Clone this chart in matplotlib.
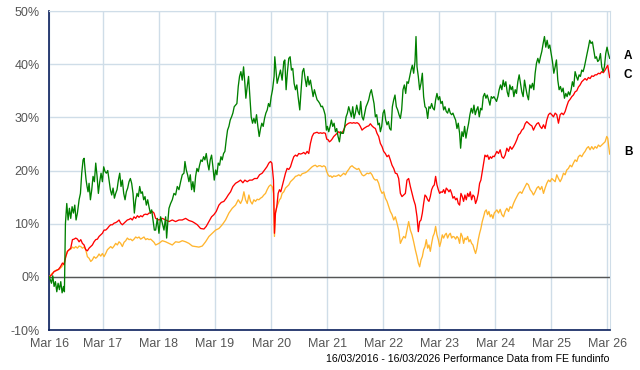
import numpy as np
import pandas as pd
import matplotlib
matplotlib.use("Agg")
import matplotlib.pyplot as plt
import matplotlib.transforms as mtransforms

plt.rcParams["font.family"] = ["Liberation Sans", "DejaVu Sans"]

# Cumulative performance (%) against years since 16/03/2016
a_years = [0.0, 0.039, 0.062, 0.086, 0.110, 0.134, 0.157, 0.181, 0.205, 0.229, 0.253, 0.270,
           0.288, 0.312, 0.336, 0.359, 0.383, 0.407, 0.431, 0.455, 0.478, 0.502,
           0.532, 0.556, 0.579, 0.603, 0.621, 0.639, 0.657, 0.674, 0.692, 0.710,
           0.734, 0.758, 0.781, 0.805, 0.829, 0.853, 0.876, 0.900, 0.924, 0.948, 0.971, 0.995,
           1.019, 1.043, 1.066, 1.090, 1.114, 1.138, 1.162, 1.185, 1.209, 1.233, 1.257, 1.280,
           1.304, 1.328, 1.352, 1.375, 1.399, 1.423, 1.447, 1.470, 1.494, 1.518, 1.542, 1.566,
           1.589, 1.613, 1.637, 1.661, 1.684, 1.708, 1.732, 1.756, 1.779, 1.803, 1.827, 1.851, 1.875,
           1.898, 1.928, 1.957, 1.987, 2.017, 2.047, 2.076, 2.094, 2.118, 2.136, 2.165, 2.195,
           2.225, 2.254, 2.284, 2.314, 2.344, 2.373, 2.403, 2.421, 2.445, 2.468, 2.492, 2.516,
           2.540, 2.563, 2.587, 2.611, 2.635, 2.659, 2.682, 2.706, 2.730, 2.754, 2.777, 2.801,
           2.825, 2.849, 2.872, 2.896, 2.920, 2.944, 2.968, 2.991, 3.015, 3.039, 3.063, 3.086,
           3.110, 3.134, 3.158, 3.181, 3.205, 3.229, 3.253, 3.276, 3.300, 3.324, 3.348, 3.372,
           3.395, 3.419, 3.443, 3.467, 3.490, 3.508, 3.532, 3.556, 3.580, 3.603, 3.627, 3.651,
           3.675, 3.698, 3.722, 3.746, 3.770, 3.793, 3.817, 3.841, 3.865, 3.889, 3.912, 3.936,
           3.960, 3.984,
           4.012, 4.024, 4.066, 4.096, 4.125, 4.155, 4.185, 4.203, 4.226, 4.250, 4.274, 4.298,
           4.321, 4.345, 4.369, 4.393, 4.417, 4.440, 4.470, 4.494, 4.518, 4.541, 4.565, 4.589,
           4.613, 4.636, 4.660, 4.684, 4.708, 4.731, 4.755, 4.779, 4.803, 4.827, 4.850, 4.874,
           4.898, 4.922, 4.945, 4.963, 4.987, 5.011, 5.034, 5.058, 5.082, 5.106, 5.129, 5.153,
           5.177, 5.201, 5.224, 5.248, 5.272, 5.296, 5.320, 5.343, 5.367, 5.391, 5.415, 5.438,
           5.462, 5.486, 5.510, 5.534, 5.557, 5.581, 5.605, 5.629, 5.652, 5.676, 5.700, 5.724,
           5.747, 5.771, 5.795, 5.819, 5.843, 5.866, 5.890,
           5.908, 5.932, 5.956, 5.979, 6.003, 6.027, 6.051, 6.074, 6.098, 6.122, 6.146, 6.169,
           6.193, 6.217, 6.241, 6.265, 6.288, 6.312, 6.336, 6.360, 6.383, 6.407, 6.431, 6.455,
           6.478, 6.502, 6.526, 6.544, 6.562, 6.585, 6.609, 6.633, 6.657, 6.680, 6.704, 6.728,
           6.752, 6.775, 6.799, 6.823, 6.847, 6.871, 6.894, 6.918, 6.942, 6.966, 6.989, 7.013,
           7.037, 7.061, 7.084, 7.108, 7.132, 7.156, 7.180, 7.203, 7.227, 7.251, 7.275, 7.298,
           7.322, 7.340, 7.364, 7.388, 7.411, 7.435, 7.459, 7.483, 7.506, 7.530, 7.554, 7.578,
           7.601, 7.625, 7.649, 7.673, 7.697, 7.720, 7.744, 7.768, 7.792, 7.815, 7.839, 7.863,
           7.887, 7.910, 7.934,
           7.981, 8.005, 8.028, 8.052, 8.076, 8.100, 8.123, 8.147, 8.171, 8.195, 8.218, 8.242,
           8.266, 8.290, 8.314, 8.337, 8.361, 8.385, 8.409, 8.432, 8.456, 8.480, 8.504, 8.527,
           8.551, 8.575, 8.599, 8.622, 8.646, 8.670, 8.694, 8.718, 8.741, 8.765, 8.789, 8.813,
           8.836, 8.860, 8.884, 8.908, 8.931, 8.955, 8.979, 9.003, 9.027, 9.050, 9.074, 9.098,
           9.122, 9.145, 9.169, 9.193, 9.217, 9.240, 9.264, 9.288, 9.312, 9.335, 9.359, 9.383,
           9.407, 9.431, 9.454, 9.478, 9.502, 9.526, 9.549, 9.573, 9.597, 9.621, 9.644, 9.668,
           9.692, 9.716, 9.740, 9.763, 9.787, 9.811, 9.835, 9.858, 9.882, 9.906, 9.930, 9.953,
           9.977, 10.0]
a_pct = [0, -1.2, 0.2, -1.8, -0.9, -2.8, -1.2, -2.4, -0.9, -3.0, -1.8, -2.8,
         10.0, 13.8, 10.7, 12.9, 11.0, 13.2, 12.0, 13.5, 10.7, 12.0,
         14.5, 15.7, 19.5, 22.0, 22.3, 20.1, 18.2, 17.0, 16.0, 17.6,
         14.5, 16.4, 18.9, 17.9, 21.4, 18.9, 15.7, 17.9, 19.5, 17.9, 20.7, 19.8,
         19.5, 20.0, 18.2, 16.4, 15.4, 16.7, 14.8, 15.7, 16.4, 18.2, 19.5, 17.0,
         18.2, 15.7, 14.5, 16.0, 16.7, 17.9, 18.5, 17.6, 15.7, 12.0, 14.5, 15.7,
         15.1, 17.0, 15.7, 16.0, 14.5, 15.1, 13.5, 14.5, 13.2, 12.0, 12.6, 10.7, 8.8,
         8.8, 11.0, 8.2, 11.3, 10.1, 8.8, 11.3, 7.3, 10.7, 12.9, 13.8, 14.5,
         15.7, 15.4, 17.0, 16.4, 17.9, 19.2, 19.5, 21.7, 20.1, 19.2, 17.9, 19.2,
         16.4, 17.9, 16.0, 18.9, 20.4, 19.8, 21.0, 22.0, 21.7, 22.6, 22.0, 23.2,
         21.4, 20.1, 22.0, 22.9, 20.7, 18.2, 20.1, 19.2, 21.4, 21.0, 22.6, 22.0,
         23.2, 23.6, 25.8, 27.6, 28.3, 29.5, 30.1, 30.8, 32.0, 32.3, 32.6, 35.8,
         37.7, 38.6, 37.0, 39.5, 36.4, 33.6, 35.8, 37.7, 33.9, 30.1, 28.9, 29.8,
         28.9, 30.5, 28.3, 26.4, 27.9, 28.9, 28.3, 29.8, 30.8, 31.4, 32.6, 32.0,
         33.9, 35.2,
         37.7, 41.4, 36.4, 37.7, 38.9, 37.0, 40.5, 40.8, 35.2, 38.6, 41.1, 41.4,
         38.9, 39.2, 36.4, 35.2, 36.1, 33.9, 31.4, 35.2, 38.6, 39.2, 37.3, 35.8,
         37.7, 36.1, 37.0, 35.5, 33.9, 35.2, 34.2, 33.3, 33.0, 32.6, 32.0, 32.1,
         31.4, 30.5, 27.6, 28.3, 27.3, 28.3, 29.5, 28.3, 28.9, 27.3, 27.9, 26.4,
         25.4, 27.3, 27.0, 27.0, 28.3, 30.1, 30.8, 32.0, 31.1, 30.1, 32.0, 29.8,
         30.8, 32.3, 31.1, 30.5, 33.0, 30.1, 29.5, 30.8, 32.0, 32.6, 33.3, 34.5,
         35.2, 33.9, 32.6, 30.1, 30.5, 28.6, 28.9,
         27.3, 28.3, 30.8, 31.4, 29.5, 28.6, 29.2, 27.9, 27.6, 32.0, 33.3, 34.2,
         32.0, 31.4, 30.5, 29.8, 31.4, 35.2, 36.1, 34.5, 36.7, 36.4, 37.7, 38.9,
         39.8, 38.3, 40.5, 45.2, 39.5, 37.7, 35.2, 36.4, 38.3, 33.9, 32.0, 31.7,
         29.8, 32.0, 31.7, 32.6, 31.7, 31.4, 33.3, 34.5, 33.3, 33.9, 32.6, 33.0,
         31.4, 32.0, 31.1, 30.8, 31.7, 30.8, 30.5, 30.8, 30.1, 29.5, 27.9, 28.9,
         27.0, 24.2, 27.3, 26.4, 28.3, 26.1, 27.6, 28.9, 30.5, 31.7, 30.8, 32.3,
         30.5, 31.4, 32.0, 30.1, 31.7, 31.4, 33.9, 34.5, 33.6, 34.2, 33.3, 32.3,
         33.9, 33.6, 33.9,
         33.0, 33.9, 35.2, 36.1, 35.2, 37.0, 35.8, 36.7, 34.8, 33.9, 36.1, 35.2,
         35.8, 33.9, 35.2, 34.5, 36.7, 38.0, 36.4, 34.8, 33.9, 37.0, 35.5, 34.2,
         33.3, 36.1, 35.5, 36.4, 35.2, 38.3, 40.2, 41.1, 40.2, 41.4, 42.4, 43.9,
         45.2, 43.2, 44.5, 43.0, 43.6, 42.0, 40.5, 38.3, 39.5, 40.8, 37.0, 35.2,
         35.8, 34.8, 35.5, 33.6, 34.5, 33.9, 34.8, 34.2, 35.2, 36.7, 35.8, 38.6,
         37.7, 37.0, 38.0, 37.7, 38.9, 38.6, 39.5, 40.8, 42.0, 43.2, 44.5, 43.9,
         44.2, 42.6, 41.1, 41.4, 40.5, 40.8, 42.0, 39.5, 38.6, 39.5, 42.0, 43.2,
         42.0, 41.1]

late_years = [5.908, 5.938, 5.967, 5.997, 6.027, 6.057, 6.086, 6.116, 6.146, 6.175, 6.205, 6.235,
              6.265, 6.294, 6.324, 6.354, 6.383, 6.413, 6.443, 6.473, 6.502, 6.532, 6.562,
              6.585, 6.609, 6.633, 6.657, 6.680, 6.704, 6.728, 6.752, 6.775, 6.799, 6.823, 6.847,
              6.871, 6.894, 6.918, 6.942, 6.966, 6.989, 7.013, 7.037, 7.061, 7.084, 7.108, 7.132,
              7.156, 7.180, 7.203, 7.227, 7.251, 7.275, 7.298, 7.322, 7.346, 7.370, 7.393, 7.417,
              7.441, 7.465, 7.489, 7.512, 7.536, 7.560, 7.584, 7.607, 7.631, 7.655, 7.679, 7.702,
              7.726, 7.750, 7.774, 7.798, 7.821, 7.845, 7.869, 7.893, 7.916, 7.940,
              7.987, 8.016, 8.046, 8.076, 8.106, 8.135, 8.165, 8.195, 8.224, 8.254, 8.284, 8.314,
              8.343, 8.373, 8.403, 8.432, 8.462, 8.492, 8.521, 8.551, 8.581, 8.611, 8.640, 8.670,
              8.700, 8.729, 8.759, 8.789, 8.819, 8.848, 8.878, 8.908, 8.937, 8.967, 8.997, 9.027,
              9.056, 9.086, 9.116, 9.145, 9.175, 9.205, 9.234, 9.264, 9.294, 9.324, 9.353, 9.383,
              9.413, 9.442, 9.472, 9.502, 9.532, 9.561, 9.591, 9.621, 9.650, 9.680, 9.710, 9.740,
              9.769, 9.799, 9.829, 9.858, 9.888, 9.918, 9.948, 9.965, 9.983, 10.0]

mid_years = [4.001, 4.018, 4.036, 4.060, 4.084, 4.108, 4.131, 4.155, 4.185, 4.215, 4.244, 4.274,
             4.304, 4.333, 4.363, 4.393, 4.422, 4.452, 4.482, 4.512, 4.541, 4.571, 4.601, 4.630,
             4.660, 4.690, 4.720, 4.749, 4.779, 4.809, 4.838, 4.868, 4.898, 4.927, 4.951, 4.975,
             4.999, 5.023, 5.046, 5.076, 5.106, 5.135, 5.165, 5.195, 5.224, 5.254, 5.284, 5.314,
             5.343, 5.373, 5.403, 5.432, 5.462, 5.492, 5.522, 5.551, 5.581, 5.611, 5.640, 5.670,
             5.700, 5.730, 5.759, 5.789, 5.819, 5.848, 5.878]

early_years = [0.294, 0.324, 0.354, 0.383, 0.413, 0.443, 0.472, 0.502, 0.532, 0.562, 0.591, 0.621,
               0.651, 0.680, 0.710, 0.740, 0.769, 0.799, 0.829, 0.859, 0.888, 0.918, 0.948, 0.977,
               1.007, 1.037, 1.066, 1.096, 1.126, 1.156, 1.185, 1.215, 1.245, 1.274, 1.304, 1.334,
               1.364, 1.393, 1.423, 1.453, 1.482, 1.512, 1.542, 1.572, 1.601, 1.631, 1.661, 1.690,
               1.720, 1.750, 1.779, 1.809, 1.839, 1.869]

c_years = ([0.0, 0.045, 0.086, 0.128, 0.163, 0.199, 0.235, 0.264] + early_years +
           [1.898, 1.957, 2.017, 2.076, 2.136, 2.195, 2.254, 2.314, 2.373, 2.433, 2.492, 2.552,
            2.599, 2.641, 2.700, 2.760, 2.801, 2.849, 2.896, 2.938, 2.979, 3.027, 3.069, 3.116,
            3.158, 3.193, 3.235, 3.276, 3.324, 3.372, 3.413, 3.455, 3.490, 3.532, 3.574, 3.621,
            3.663, 3.710, 3.752, 3.799, 3.841, 3.883, 3.918, 3.948, 3.972] +
           mid_years + late_years)
c_pct = [0, 0.4, 1.0, 1.2, 1.4, 1.9, 2.6, 2.3,
         3.8, 4.8, 5.1, 5.4, 7.0, 7.1, 7.3, 7.1, 6.6, 7.0, 6.3, 6.0,
         5.1, 4.9, 5.4, 5.7, 6.0, 6.6, 7.0, 7.1, 7.6, 7.9, 8.2, 8.8,
         8.8, 9.1, 9.5, 9.8, 9.8, 10.1, 10.2, 10.4, 10.7, 10.1, 9.8, 10.1,
         10.4, 10.7, 10.8, 11.0, 10.7, 11.3, 11.0, 11.5, 11.2, 11.5, 11.3, 11.7,
         11.8, 11.7, 12.0, 12.0, 12.3, 12.0,
         11.0, 10.7, 11.0, 10.7, 10.4, 10.7, 10.4, 10.7, 10.7, 11.0, 10.6, 10.4,
         10.1, 9.8, 9.1, 9.0, 9.5, 10.4, 11.3, 11.7, 12.3, 13.5, 14.0, 14.2,
         14.8, 15.4, 16.0, 17.0, 17.6, 17.9, 18.2, 17.7, 18.2, 17.9, 18.2, 18.2,
         18.5, 18.5, 19.2, 19.5, 20.1, 20.7, 21.4, 21.7, 21.4,
         18.2, 8.2, 12.0, 13.2, 15.7, 16.4, 16.0, 17.0, 18.2, 19.5, 20.4, 20.2,
         20.7, 21.7, 22.6, 22.9, 22.7, 23.2, 23.1, 23.2, 23.4, 23.1, 23.6, 23.2,
         25.1, 26.4, 27.0, 27.1, 27.2, 27.0, 27.1, 27.0, 27.1, 27.0, 25.9, 25.8,
         25.4, 25.6, 25.9, 26.4, 26.7, 27.0, 27.3, 27.0, 27.1, 27.6, 28.4, 28.7,
         28.9, 29.0, 28.9, 29.0, 28.9, 29.0, 28.8, 28.3, 27.6, 27.9, 28.1, 28.3,
         28.4, 28.8, 28.4, 28.1, 27.9, 27.0, 26.4,
         25.1, 24.5, 23.6, 23.2, 22.6, 22.9, 22.0, 21.0, 20.4, 19.5, 19.4, 18.5,
         15.7, 15.1, 15.4, 15.7, 18.2, 18.5, 17.0, 15.7, 14.5, 13.5, 11.3,
         8.5, 10.4, 10.7, 12.0, 13.8, 15.4, 15.1, 14.5, 14.2, 15.1, 16.4, 17.0,
         17.3, 18.9, 17.3, 16.4, 15.7, 16.0, 15.9, 16.4, 15.7, 16.7, 16.4, 16.0,
         16.4, 15.7, 14.8, 15.1, 14.5, 14.8, 13.8, 13.5, 15.7, 15.1, 14.2, 15.4,
         14.5, 15.7, 15.1, 16.0, 14.5, 15.4, 15.1, 13.8, 14.5, 15.7, 17.6, 18.2,
         19.8, 21.4, 22.9, 22.6, 22.9, 22.1, 22.6, 22.3, 22.7, 22.6,
         23.6, 23.2, 23.9, 22.6, 22.3, 22.9, 24.2, 23.6, 24.5, 24.0, 24.5, 25.1,
         25.8, 26.7, 27.0, 27.6, 27.9, 28.8, 29.2, 28.9, 28.6, 28.4, 27.6, 28.3,
         28.8, 29.0, 28.3, 27.9, 28.6, 27.9, 29.5, 30.5, 30.8, 30.5, 30.1, 30.8,
         30.5, 28.9, 30.5, 30.8, 30.5, 31.1, 32.1, 33.0, 33.4, 33.9, 34.2, 34.8,
         35.0, 35.7, 36.1, 36.7, 37.0, 37.3, 37.0, 37.5, 37.3, 37.8, 37.7, 38.0,
         38.0, 38.3, 38.2, 38.6, 38.4, 38.9, 39.5, 39.8, 38.6, 37.5]

b_years = ([0.0, 0.045, 0.086, 0.128, 0.175, 0.223, 0.264] + early_years +
           [1.898, 1.957, 2.017, 2.076, 2.136, 2.195, 2.254, 2.314, 2.373, 2.433, 2.492, 2.552,
            2.611, 2.670, 2.730, 2.789, 2.849, 2.908, 2.968, 3.027, 3.086, 3.146, 3.205, 3.265,
            3.324, 3.372, 3.413, 3.443, 3.473, 3.502, 3.532, 3.562, 3.591, 3.621, 3.651, 3.680,
            3.710, 3.740, 3.770, 3.799, 3.829, 3.859, 3.888, 3.918, 3.948, 3.977] +
           mid_years + late_years)
b_pct = [0, 0.6, 1.0, 1.3, 1.4, 1.9, 2.6,
         3.8, 4.8, 5.1, 5.2, 5.6, 5.4, 5.7, 5.4, 5.8, 5.7, 5.4, 5.6,
         5.1, 3.8, 3.5, 2.9, 3.2, 3.8, 3.5, 3.8, 4.3, 3.9, 4.4, 3.8,
         4.4, 5.1, 5.4, 5.7, 5.4, 5.8, 6.3, 6.0, 6.6, 6.3, 5.7, 6.5,
         6.8, 7.3, 7.0, 7.1, 6.8, 7.1, 7.5, 7.3, 7.5, 7.1, 7.3, 7.5,
         7.0, 7.2, 7.0, 7.1, 6.8, 6.5,
         6.0, 6.3, 6.8, 6.6, 6.3, 6.0, 6.6, 6.5, 6.8, 6.6, 6.3, 5.8,
         5.7, 5.6, 5.8, 6.6, 7.6, 8.2, 8.8, 9.1, 9.8, 10.7, 12.0, 12.9,
         13.5, 14.5, 13.8, 14.5, 16.0, 14.5, 13.8, 15.4, 14.2, 13.7, 14.5, 14.2,
         14.6, 14.5, 14.8, 15.0, 15.4, 15.7, 16.4, 17.0, 17.3, 17.0,
         15.7, 7.6, 12.0, 13.2, 13.8, 14.5, 14.8, 15.7, 16.0, 16.7, 17.0, 17.3,
         17.9, 18.2, 18.5, 18.9, 19.0, 19.2, 19.0, 19.4, 19.5, 19.6, 19.8, 20.1,
         20.4, 20.7, 20.9, 21.0, 20.7, 20.9, 20.9, 20.7, 20.9, 20.7, 19.8, 19.2,
         18.9, 19.0, 18.7, 19.0, 18.9, 19.0, 19.2, 18.9, 19.2, 19.5, 19.2, 19.8,
         20.2, 20.7, 20.9, 20.6, 20.4, 20.2, 20.4, 19.8, 19.2, 19.0, 19.2, 19.5,
         19.4, 19.6, 19.2, 18.5, 18.2, 18.3, 17.6,
         16.4, 15.7, 16.0, 14.8, 14.2, 13.2, 12.3, 11.7, 10.7, 11.3, 10.1, 8.8,
         6.3, 7.0, 7.6, 7.3, 8.8, 10.4, 8.8, 7.9, 6.6, 5.1, 3.8,
         2.6, 1.9, 3.2, 3.8, 5.1, 5.7, 7.0, 5.4, 6.0, 4.8, 6.3, 7.6,
         8.2, 9.5, 7.9, 7.0, 5.7, 6.6, 7.9, 7.3, 7.9, 8.2, 7.3, 7.9,
         8.2, 7.3, 7.6, 7.5, 7.1, 7.6, 7.3, 6.3, 8.2, 7.6, 6.3, 7.3,
         7.0, 7.6, 6.6, 7.0, 6.3, 6.0, 5.1, 4.4, 5.4, 7.0, 8.2, 9.1,
         10.4, 11.3, 12.3, 12.6, 11.7, 12.3, 11.3, 11.7, 11.0, 12.0,
         12.6, 12.0, 12.7, 11.7, 11.3, 12.3, 12.9, 12.3, 13.2, 12.9, 13.8, 14.5,
         15.1, 15.7, 16.0, 15.7, 16.4, 17.0, 17.6, 17.3, 16.4, 16.0, 15.4, 16.0,
         16.7, 17.0, 16.4, 17.0, 15.7, 16.7, 17.6, 18.2, 17.9, 18.5, 18.2, 17.9,
         19.2, 18.5, 17.9, 18.5, 19.5, 19.2, 20.1, 20.4, 21.0, 20.7, 21.4, 22.0,
         21.7, 22.6, 22.9, 22.6, 23.2, 23.6, 24.2, 24.5, 23.9, 24.5, 24.0, 24.5,
         24.2, 24.8, 24.5, 24.8, 25.1, 25.4, 26.4, 26.1, 24.5, 23.1]

series_names = ["A", "B", "C"]
series_colors = {"A": "#008000", "B": "#ffb52e", "C": "#ff0000"}
tick_labels = ["Mar 16", "Mar 17", "Mar 18", "Mar 19", "Mar 20", "Mar 21",
               "Mar 22", "Mar 23", "Mar 24", "Mar 25", "Mar 26"]

start = pd.Timestamp("2016-03-16")
end = pd.Timestamp("2026-03-16")


def to_dates(years):
    return start + pd.to_timedelta(np.array(years) * 365.25, unit="D")


data = {"A": (a_years, a_pct), "B": (b_years, b_pct), "C": (c_years, c_pct)}

fig = plt.figure(figsize=(6.4, 3.7), dpi=100)
ax = fig.add_axes([0.077, 0.108, 0.8755, 0.8622])

grid_col = "#cfdde8"
for name in ["B", "C", "A"]:
    yrs, pct = data[name]
    ax.plot(to_dates(yrs), pct, color=series_colors[name], lw=0.95, zorder=3)

ax.axhline(0, color="#555555", lw=1.0, zorder=2)

ax.set_xlim(start, end)
ax.set_ylim(-10, 50)
ticks = [start] + [pd.Timestamp(f"{y}-03-01") for y in range(2017, 2027)]
ax.set_xticks(ticks)
ax.set_xticklabels(tick_labels)
ax.set_yticks(range(-10, 51, 10))
ax.set_yticklabels([f"{v}%" for v in range(-10, 51, 10)])
ax.grid(True, color=grid_col, lw=1.0, zorder=0)
ax.tick_params(length=0, labelsize=9, labelcolor="#555555")
ax.tick_params(axis="x", pad=6)
ax.tick_params(axis="y", pad=7)

ax.spines["left"].set_color("#0a1f5c")
ax.spines["bottom"].set_color("#0a1f5c")
ax.spines["left"].set_linewidth(1.2)
ax.spines["bottom"].set_linewidth(1.2)
ax.spines["top"].set_color(grid_col)
ax.spines["right"].set_color(grid_col)

trans = mtransforms.blended_transform_factory(ax.transAxes, ax.transData)
for name in series_names:
    yrs, pct = data[name]
    ax.text(1.033, pct[-1] + 0.4, name, transform=trans, fontsize=8.5, fontweight="bold",
            ha="center", va="center", clip_on=False)

fig.text(0.952, 0.03, "16/03/2016 - 16/03/2026 Performance Data from FE fundinfo",
         ha="right", va="center", fontsize=7.6, color="black")

fig.savefig("out.png", dpi=100)
